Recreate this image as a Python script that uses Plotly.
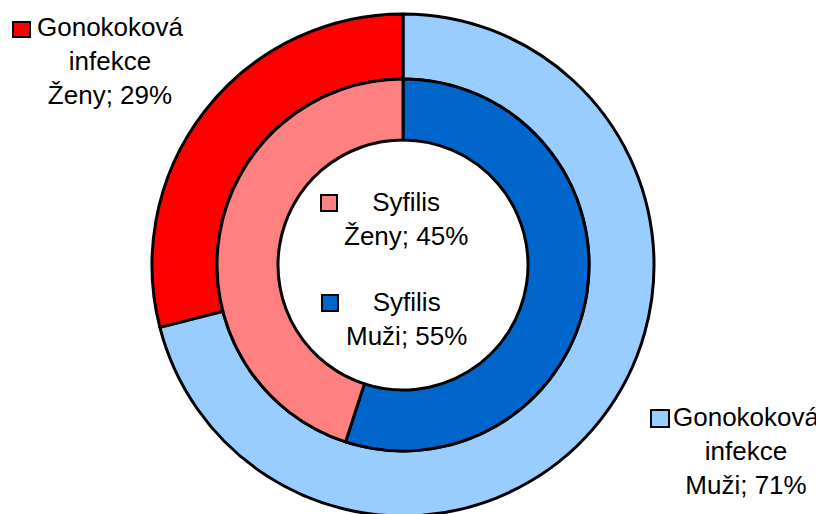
import plotly.graph_objects as go

# ---- data ----
sexes = ["Muži", "Ženy"]
gono_values = [71, 29]      # outer ring: Gonokoková infekce
syf_values = [55, 45]       # inner ring: Syfilis
gono_colors = ["#99CCFF", "#FF0000"]
syf_colors = ["#0066CC", "#FF8080"]

W, H = 824, 514
OFF = 8                     # page body margin
CX, CY = 403 - OFF, 265 - OFF   # pixel centre inside the figure
R_OUT, R_MID, R_IN = 251, 186, 125


def dom(r):
    x = [(CX - r) / W, (CX + r) / W]
    yb = H - CY
    y = [max(0, (yb - r) / H), min(1, (yb + r) / H)]
    return dict(x=x, y=y)


def px(x, y):
    # screen pixel -> paper coords
    return (x - OFF) / W, (H - (y - OFF)) / H


fig = go.Figure()
fig.add_trace(go.Pie(
    labels=[f"Gonokoková infekce {s}" for s in sexes], values=gono_values,
    marker=dict(colors=gono_colors, line=dict(color="black", width=3)),
    hole=R_MID / R_OUT, sort=False, direction="clockwise", rotation=0,
    textinfo="none", hoverinfo="label+percent", domain=dom(R_OUT), showlegend=False,
))
fig.add_trace(go.Pie(
    labels=[f"Syfilis {s}" for s in sexes], values=syf_values,
    marker=dict(colors=syf_colors, line=dict(color="black", width=3)),
    hole=R_IN / R_MID, sort=False, direction="clockwise", rotation=0,
    textinfo="none", hoverinfo="label+percent", domain=dom(R_MID), showlegend=False,
))

FS = 26
FONT = dict(family="Liberation Sans, Arial, sans-serif", size=FS, color="black")

labels = [
    # (text, centre x, first baseline y, square box, colour)  -- screen pixels
    (f"Gonokoková<br>infekce<br>{sexes[1]}; {gono_values[1]}%", 110, 37, (13, 22, 30, 37), gono_colors[1]),
    (f"Gonokoková<br>infekce<br>{sexes[0]}; {gono_values[0]}%", 746, 427, (651, 410, 669, 427), gono_colors[0]),
    (f"Syfilis<br>{sexes[1]}; {syf_values[1]}%", 406, 212, (321, 195, 337, 211), syf_colors[1]),
    (f"Syfilis<br>{sexes[0]}; {syf_values[0]}%", 406, 312, (322, 295, 338, 311), syf_colors[0]),
]

for text, tx, base, box, col in labels:
    ax, ay = px(tx, base - 27)
    fig.add_annotation(text=text, x=ax, y=ay, xref="paper", yref="paper",
                       xanchor="center", yanchor="top", showarrow=False,
                       font=FONT, align="center")
    x0, y0 = px(box[0], box[1])
    x1, y1 = px(box[2], box[3])
    fig.add_shape(type="rect", xref="paper", yref="paper", x0=x0, x1=x1, y0=y1, y1=y0,
                  fillcolor=col, line=dict(color="black", width=2))

fig.update_layout(width=W, height=H, margin=dict(l=0, r=0, t=0, b=0),
                  paper_bgcolor="white", plot_bgcolor="white")
fig.write_html("out.html")
